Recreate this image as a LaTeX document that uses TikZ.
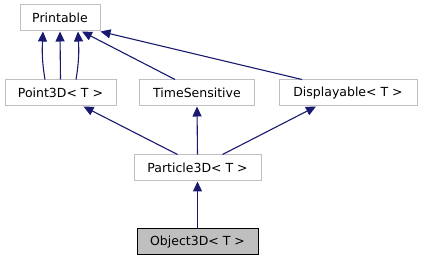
\documentclass[tikz,border=0pt]{standalone}
\usepackage{fontspec}
\setmainfont{DejaVu Sans}
\usetikzlibrary{arrows.meta}
\definecolor{edgeblue}{HTML}{191970}
\definecolor{boxgray}{HTML}{BFBFBF}

\begin{document}
\begin{tikzpicture}[x=1pt,y=-1pt]
  \tikzstyle{class box}=[draw=boxgray,line width=1pt,fill=white,minimum height=26pt,inner sep=0pt,font=\fontsize{12.5}{14}\selectfont]
  \tikzstyle{current box}=[class box,draw=black,fill=boxgray]
  \tikzstyle{inherit}=[draw=edgeblue,line width=1.1pt,-{Triangle[length=10pt,width=9pt]}]

  \useasboundingbox (0,0) rectangle (423,261);

  % Klassen
  \node[class box,minimum width=80pt]  (printable) at (60,18)    {Printable};
  \node[class box,minimum width=111pt] (point)     at (60.5,93)  {Point3D< T >};
  \node[class box,minimum width=115pt] (time)      at (197,93)   {TimeSensitive};
  \node[class box,minimum width=138pt] (display)   at (348,93)   {Displayable< T >};
  \node[class box,minimum width=127pt] (particle)  at (197.5,168) {Particle3D< T >};
  \node[current box,minimum width=121pt] (object)  at (197.5,242) {Object3D< T >};

  % Point3D erbt dreimal von Printable
  \draw[inherit] ([xshift=-15.5pt]point.north) .. controls +(-3,-18) and +(-1,20) .. ([xshift=-17pt]printable.south);
  \draw[inherit] (point.north) -- (printable.south);
  \draw[inherit] ([xshift=15.5pt]point.north) .. controls +(3,-18) and +(1,20) .. ([xshift=18pt]printable.south);

  % weitere Basisklassen
  \draw[inherit] ([xshift=-22pt]time.north) -- ([xshift=22pt]printable.south);
  \draw[inherit] ([xshift=-46pt]display.north) -- (printable.south east);

  % Particle3D
  \draw[inherit] ([xshift=-20pt]particle.north) -- ([xshift=23pt]point.south);
  \draw[inherit] (particle.north) -- (time.south);
  \draw[inherit] ([xshift=25pt]particle.north) -- ([xshift=-32pt]display.south);

  % Object3D
  \draw[inherit] (object.north) -- (particle.south);
\end{tikzpicture}
\end{document}
